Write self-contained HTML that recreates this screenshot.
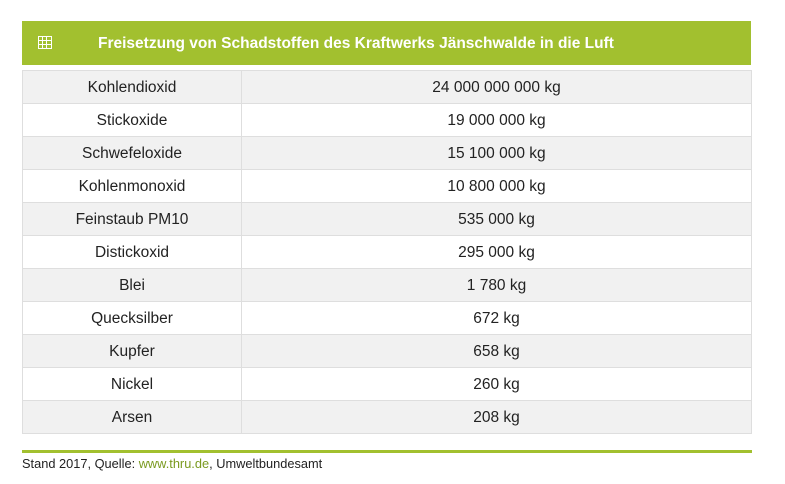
<!DOCTYPE html>
<html><head><style>
body{margin:0;width:785px;height:484px;background:#fff;font-family:"Liberation Sans",sans-serif;position:relative;overflow:hidden}
.hdr{position:absolute;left:22px;top:21px;width:729px;height:44px;background:#a2c02f;color:#fff;font-weight:bold;font-size:15.5px;line-height:45px}
.hdr span{position:absolute;left:76px}
.ic{position:absolute;left:16px;top:15px;width:14px;height:13px;border:1px solid #fff;box-sizing:border-box;
background:linear-gradient(#fff,#fff) 0 3px/100% 1px no-repeat,linear-gradient(#fff,#fff) 0 7px/100% 1px no-repeat,linear-gradient(#fff,#fff) 3px 0/1px 100% no-repeat,linear-gradient(#fff,#fff) 7px 0/1px 100% no-repeat}
table{position:absolute;left:22px;top:70px;width:730px;border-collapse:collapse;font-size:15.5px;color:#222}
td{height:30px;border:1px solid #dedede;text-align:center;padding:2px 0 0 0}
td:first-child{width:218px}
tr:nth-child(odd){background:#f1f1f1}
.line{position:absolute;left:22px;top:450px;width:730px;height:3px;background:#a2c02f}
.ft{position:absolute;left:22px;top:456px;font-size:12.8px;color:#222}
.ft a{color:#7a9a20;text-decoration:none}
</style></head><body>
<div class="hdr"><div class="ic"></div><span>Freisetzung von Schadstoffen des Kraftwerks Jänschwalde in die Luft</span></div>
<table>
<tr><td>Kohlendioxid</td><td>24 000 000 000 kg</td></tr>
<tr><td>Stickoxide</td><td>19 000 000 kg</td></tr>
<tr><td>Schwefeloxide</td><td>15 100 000 kg</td></tr>
<tr><td>Kohlenmonoxid</td><td>10 800 000 kg</td></tr>
<tr><td>Feinstaub PM10</td><td>535 000 kg</td></tr>
<tr><td>Distickoxid</td><td>295 000 kg</td></tr>
<tr><td>Blei</td><td>1 780 kg</td></tr>
<tr><td>Quecksilber</td><td>672 kg</td></tr>
<tr><td>Kupfer</td><td>658 kg</td></tr>
<tr><td>Nickel</td><td>260 kg</td></tr>
<tr><td>Arsen</td><td>208 kg</td></tr>
</table>
<div class="line"></div>
<div class="ft">Stand 2017, Quelle: <a>www.thru.de</a>, Umweltbundesamt</div>
</body></html>
